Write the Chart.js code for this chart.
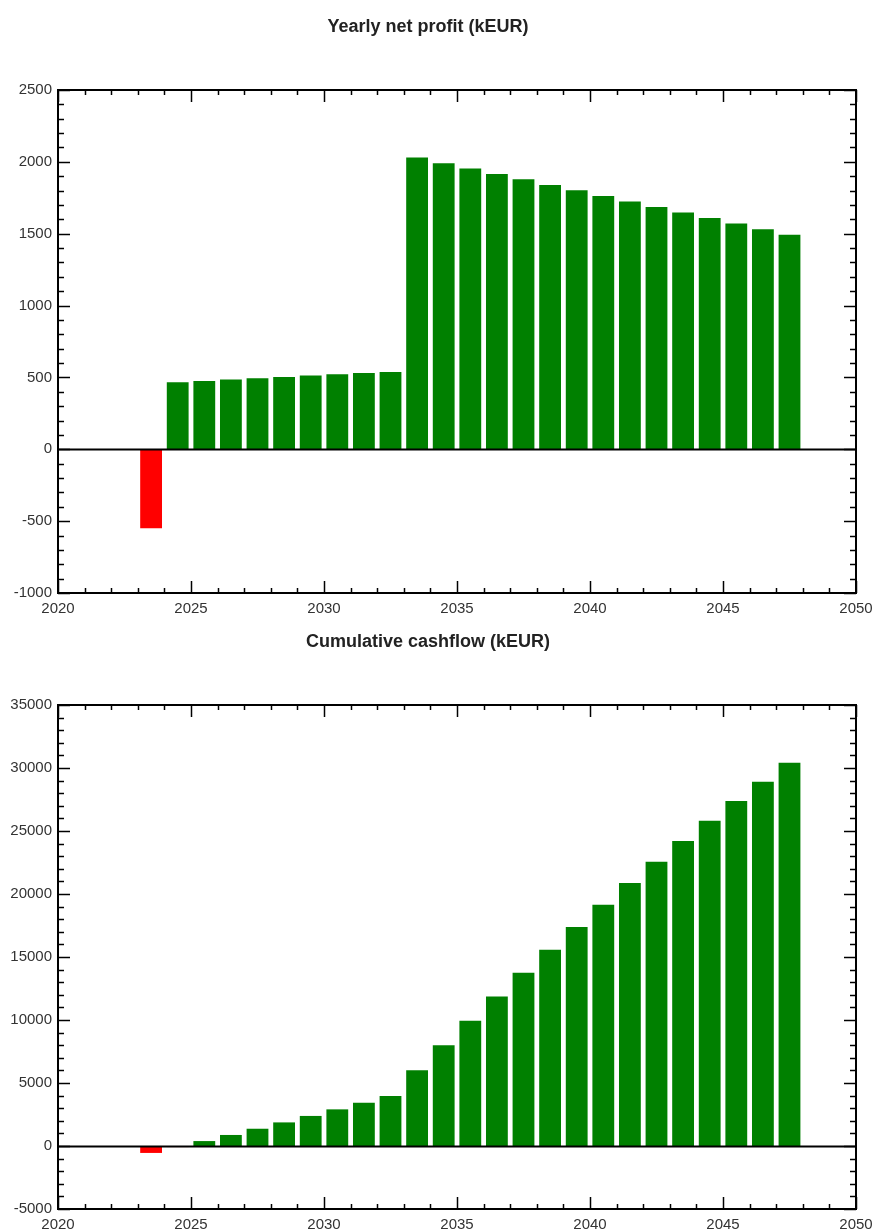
<!DOCTYPE html>
<html>
<head>
<meta charset="utf-8">
<title>Yearly net profit and cumulative cashflow</title>
<script src="https://cdn.jsdelivr.net/npm/chart.js@4/dist/chart.umd.min.js"></script>
<style>
  html, body { margin: 0; padding: 0; background: #fff; }
  #wrap { position: relative; width: 877px; height: 1231px; }
  .box { position: absolute; left: 0; width: 877px; }
  #top { top: 0; height: 615px; }
  #bottom { top: 615px; height: 616px; }
</style>
</head>
<body>
<div id="wrap">
  <div class="box" id="top"><canvas id="profitChart"></canvas></div>
  <div class="box" id="bottom"><canvas id="cashChart"></canvas></div>
</div>
<script>
// Project years (each bar covers one year)
const years = [2023, 2024, 2025, 2026, 2027, 2028, 2029, 2030, 2031, 2032,
               2033, 2034, 2035, 2036, 2037, 2038, 2039, 2040, 2041, 2042,
               2043, 2044, 2045, 2046, 2047];

// Yearly net profit, kEUR
const netProfit = [-550, 466, 475, 485, 494, 503, 513, 522, 531, 538,
                   2030, 1990, 1953, 1916, 1879, 1839, 1802, 1763, 1724, 1686,
                   1647, 1610, 1571, 1531, 1492];

// Cumulative cashflow, kEUR
const cumulativeCashflow = [-550, -84, 391, 876, 1370, 1873, 2386, 2908, 3439, 3977,
                            6007, 7997, 9950, 11866, 13745, 15584, 17386, 19149, 20873, 22559,
                            24206, 25816, 27387, 28918, 30410];

// Axis tick settings
const xRange = [2020, 2050];
const xLabelStep = 5;
const profitRange = [-1000, 2500];
const profitLabelStep = 500;
const profitMinorStep = 100;
const cashRange = [-5000, 35000];
const cashLabelStep = 5000;
const cashMinorStep = 1000;

const POS_COLOR = '#008000';
const NEG_COLOR = '#ff0000';
const FONT = '"Liberation Sans", Arial, Helvetica, sans-serif';

// Frame, inward tick marks on all four sides and the zero line
const frameTicks = {
  id: 'frameTicks',
  afterDatasetsDraw(chart, args, opts) {
    const { ctx, chartArea: a, scales: { x, y } } = chart;
    ctx.save();
    ctx.strokeStyle = '#000';

    const seg = (x1, y1, x2, y2) => {
      ctx.beginPath();
      ctx.moveTo(x1, y1);
      ctx.lineTo(x2, y2);
      ctx.stroke();
    };

    // zero line
    ctx.lineWidth = 2;
    const y0 = Math.round(y.getPixelForValue(0)) + 0.5;
    seg(a.left, y0, a.right, y0);

    ctx.lineWidth = 1.5;
    // x ticks: minor every year, major every 5
    for (let v = x.min; v <= x.max + 1e-9; v += 1) {
      const px = Math.round(x.getPixelForValue(v)) + 0.5;
      const len = (v - x.min) % xLabelStep === 0 ? 12 : 5;
      seg(px, a.bottom, px, a.bottom - len);
      seg(px, a.top, px, a.top + len);
    }
    // y ticks
    const minor = opts.minorStep, major = opts.majorStep;
    for (let v = y.min; v <= y.max + 1e-9; v += minor) {
      const py = Math.round(y.getPixelForValue(v)) + 0.5;
      const isMajor = Math.abs(((v - y.min) / major) - Math.round((v - y.min) / major)) < 1e-6;
      const len = isMajor ? 12 : 6;
      seg(a.left, py, a.left + len, py);
      seg(a.right, py, a.right - len, py);
    }

    // frame
    ctx.lineWidth = 2;
    ctx.strokeRect(a.left, a.top, a.right - a.left, a.bottom - a.top);
    ctx.restore();
  }
};

function makeChart(canvasId, title, values, range, labelStep, minorStep) {
  const points = years.map((yr, i) => ({ x: yr + 0.5, y: values[i] }));
  return new Chart(document.getElementById(canvasId), {
    type: 'bar',
    data: {
      datasets: [{
        data: points,
        backgroundColor: values.map(v => v < 0 ? NEG_COLOR : POS_COLOR),
        borderWidth: 0,
        barPercentage: 0.82,
        categoryPercentage: 1.0
      }]
    },
    options: {
      responsive: true,
      maintainAspectRatio: false,
      animation: false,
      events: [],
      layout: { padding: { left: 0, right: 21, top: 0, bottom: 0 } },
      plugins: {
        legend: { display: false },
        tooltip: { enabled: false },
        title: {
          display: true,
          text: title,
          color: '#222',
          font: { family: FONT, size: 18, weight: 'bold', lineHeight: 1.2 },
          padding: { top: 16, bottom: 52.4 }
        },
        frameTicks: { minorStep: minorStep, majorStep: labelStep }
      },
      scales: {
        x: {
          type: 'linear',
          min: xRange[0],
          max: xRange[1],
          offset: false,
          grid: { display: false, drawTicks: false, offset: false },
          border: { display: false },
          afterFit(scale) {
            scale.height = 22;
            scale.paddingLeft = 0;
            scale.paddingRight = 0;
          },
          ticks: {
            stepSize: xLabelStep,
            autoSkip: false,
            maxRotation: 0,
            padding: 7,
            color: '#333',
            font: { family: FONT, size: 15 },
            callback: v => String(v)
          }
        },
        y: {
          type: 'linear',
          min: range[0],
          max: range[1],
          grid: { display: false, drawTicks: false },
          border: { display: false },
          afterFit(scale) { scale.width = 58; },
          ticks: {
            stepSize: labelStep,
            padding: 6,
            color: '#333',
            font: { family: FONT, size: 15 },
            callback: v => String(v)
          }
        }
      }
    },
    plugins: [frameTicks]
  });
}

makeChart('profitChart', 'Yearly net profit (kEUR)', netProfit,
          profitRange, profitLabelStep, profitMinorStep);
makeChart('cashChart', 'Cumulative cashflow (kEUR)', cumulativeCashflow,
          cashRange, cashLabelStep, cashMinorStep);
</script>
</body>
</html>
